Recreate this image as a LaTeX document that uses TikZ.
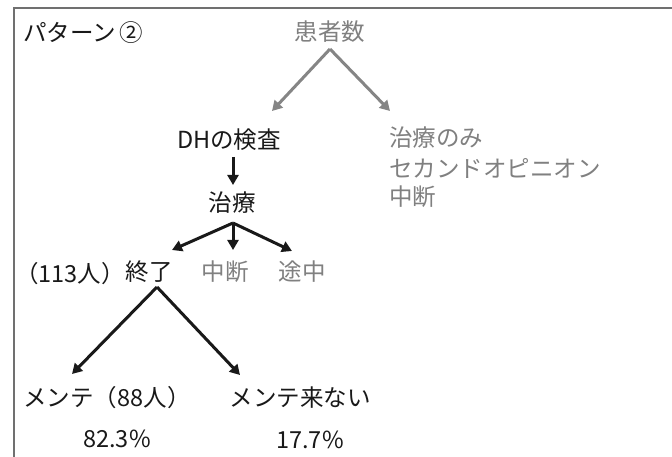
\documentclass[tikz,border=0pt]{standalone}
\usepackage{fontspec}
\setmainfont{Noto Sans CJK JP}
\usetikzlibrary{arrows.meta}
\definecolor{txtgray}{HTML}{808080}
\definecolor{arrgray}{HTML}{858585}
\definecolor{framegray}{HTML}{707070}
\tikzset{
  lbl/.style={inner sep=0pt, font=\fontsize{23.5}{28}\selectfont, text=black!90},
  glbl/.style={lbl, text=txtgray},
  blkarrow/.style={line width=3pt, draw=black!90, -{Triangle[length=10pt,width=11pt]}},
  grayarrow/.style={line width=3pt, draw=arrgray, -{Triangle[length=10pt,width=11pt]}}
}
\begin{document}
\begin{tikzpicture}[x=1pt,y=-1pt]
\useasboundingbox (0,0) rectangle (672,457);
\fill[white] (0,0) rectangle (672,457);
% frame
\draw[framegray, line width=1.5pt] (14,457) -- (14,8) -- (672,8);

\node[lbl, anchor=west] (title) at (23,33) {パターン\,②};
\node[glbl] (patients) at (330,32) {患者数};

\coordinate (apex) at (330,49);
\coordinate (lt) at (272,111);
\coordinate (rt) at (390,111);
\draw[grayarrow] (apex) -- (lt);
\draw[grayarrow] (apex) -- (rt);

\node[lbl] (dh) at (229,140) {DHの検査};
\node[glbl, anchor=west] (g1) at (389,138) {治療のみ};
\node[glbl, anchor=west] (g2) at (389,168) {セカンドオピニオン};
\node[glbl, anchor=west] (g3) at (389,197) {中断};

\node[lbl] (treat) at (232,203) {治療};
\draw[blkarrow] (233,157) -- (233,185);

\coordinate (tsplit) at (233,223);
\node[lbl] (done) at (149,272) {終了};
\node[glbl] (stop) at (225,272) {中断};
\node[glbl] (mid) at (302,272) {途中};
\node[lbl, anchor=east] (n113) at (125,274) {（113人）};

\draw[blkarrow] (tsplit) -- (172,250);
\draw[blkarrow] (tsplit) -- (233,250);
\draw[blkarrow] (tsplit) -- (292,251);

\coordinate (dsplit) at (157,287);
\draw[blkarrow] (dsplit) -- (72,374);
\draw[blkarrow] (dsplit) -- (240,375);

\node[lbl] (maint) at (107,398) {メンテ（88人）};
\node[lbl] (nomaint) at (300,398) {メンテ来ない};
\node[lbl] (p1) at (117,439) {82.3\%};
\node[lbl] (p2) at (310,440) {17.7\%};
\end{tikzpicture}
\end{document}
